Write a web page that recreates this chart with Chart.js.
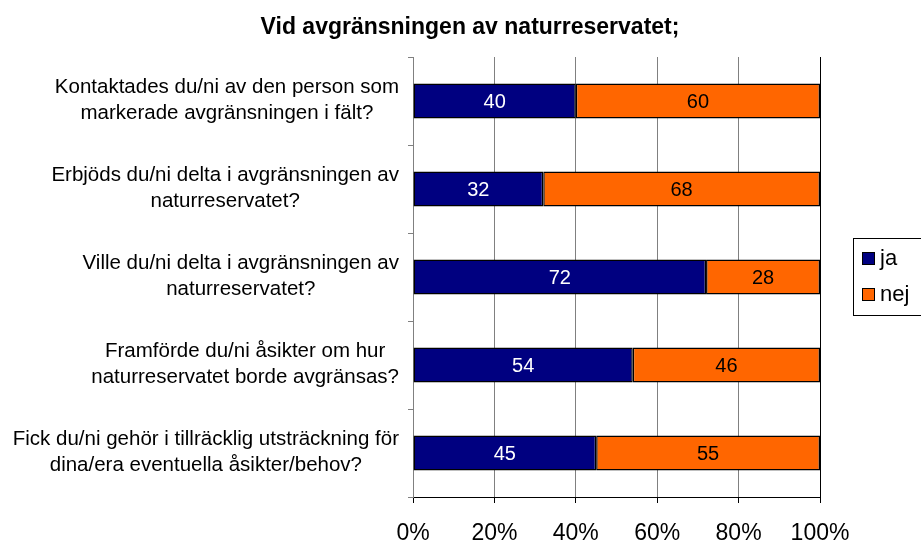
<!DOCTYPE html>
<html lang="sv">
<head>
<meta charset="utf-8">
<title>Vid avgränsningen av naturreservatet;</title>
<script src="https://cdn.jsdelivr.net/npm/chart.js@4/dist/chart.umd.min.js"></script>
<style>
  html, body { margin: 0; padding: 0; background: #fff; }
  #wrap { width: 921px; height: 541px; }
</style>
</head>
<body>
<div id="wrap"><canvas id="c" width="921" height="541"></canvas></div>
<script>
// Diagramrubrik
const chartTitle = 'Vid avgränsningen av naturreservatet;';
// Frågor (kategorier), flerradiga etiketter
const questions = [
  ['Kontaktades du/ni av den person som', 'markerade avgränsningen i fält?'],
  ['Erbjöds du/ni delta i avgränsningen av', 'naturreservatet?'],
  ['Ville du/ni delta i avgränsningen av', 'naturreservatet?'],
  ['Framförde du/ni åsikter om hur', 'naturreservatet borde avgränsas?'],
  ['Fick du/ni gehör i tillräcklig utsträckning för', 'dina/era eventuella åsikter/behov?']
];
// Andel svar i procent
const jaValues  = [40, 32, 72, 54, 45];
const nejValues = [60, 68, 28, 46, 55];
// Skalans steg
const xTicks = [0, 20, 40, 60, 80, 100];

const FONT = '"Liberation Sans", Arial, sans-serif';

// Rubrik ovanför diagrammet
const titleText = {
  id: 'titleText',
  afterDraw(chart) {
    const ctx = chart.ctx;
    ctx.save();
    ctx.font = 'bold 23px ' + FONT;
    ctx.fillStyle = '#000';
    ctx.textAlign = 'center';
    ctx.textBaseline = 'alphabetic';
    ctx.fillText(chartTitle, 470, 34);
    ctx.restore();
  }
};

// Kategorietiketter: raderna centrerade inom ett högerjusterat block
const questionLabels = {
  id: 'questionLabels',
  afterDraw(chart) {
    const ctx = chart.ctx;
    const yScale = chart.scales.y;
    const right = 399, lineGap = 26;
    ctx.save();
    ctx.font = '20.5px ' + FONT;
    ctx.fillStyle = '#000';
    ctx.textAlign = 'center';
    ctx.textBaseline = 'middle';
    questions.forEach((lines, i) => {
      const w = Math.max(...lines.map(l => ctx.measureText(l).width));
      const cx = right - w / 2;
      const cy = yScale.getPixelForTick(i) - 1;
      const y0 = cy - (lines.length - 1) * lineGap / 2;
      lines.forEach((l, k) => ctx.fillText(l, cx, y0 + k * lineGap));
    });
    ctx.restore();
  }
};

// Värdeetiketter mitt i varje stapelsegment
const valueLabels = {
  id: 'valueLabels',
  afterDatasetsDraw(chart) {
    const ctx = chart.ctx;
    ctx.save();
    ctx.font = '20px ' + FONT;
    ctx.textAlign = 'center';
    ctx.textBaseline = 'middle';
    chart.data.datasets.forEach((ds, i) => {
      const meta = chart.getDatasetMeta(i);
      meta.data.forEach((el, j) => {
        ctx.fillStyle = ds.labelColor;
        ctx.fillText(String(ds.data[j]), (el.x + el.base) / 2, el.y + 1);
      });
    });
    ctx.restore();
  }
};

// Förklaring med ram till höger om diagrammet
const boxedLegend = {
  id: 'boxedLegend',
  afterDraw(chart) {
    const ctx = chart.ctx;
    const x0 = 853, y0 = 238, w = 70, h = 77;
    ctx.save();
    ctx.fillStyle = '#fff';
    ctx.fillRect(x0, y0, w, h);
    ctx.strokeStyle = '#000';
    ctx.lineWidth = 1;
    ctx.strokeRect(x0 + 0.5, y0 + 0.5, w, h);
    ctx.font = '22px ' + FONT;
    ctx.textBaseline = 'middle';
    ctx.textAlign = 'left';
    chart.data.datasets.forEach((ds, i) => {
      const cy = y0 + 20 + i * 36;
      ctx.fillStyle = ds.backgroundColor;
      ctx.fillRect(862, cy - 6, 13, 13);
      ctx.strokeStyle = '#000';
      ctx.strokeRect(862.5, cy - 5.5, 12, 12);
      ctx.fillStyle = '#000';
      ctx.fillText(ds.label, 880, cy + 1);
    });
    ctx.restore();
  }
};

new Chart(document.getElementById('c'), {
  type: 'bar',
  data: {
    labels: questions,
    datasets: [
      { label: 'ja',  data: jaValues,  backgroundColor: '#000080', labelColor: '#ffffff',
        borderColor: '#000', borderWidth: 1.5, borderSkipped: false,
        barPercentage: 0.4, categoryPercentage: 1 },
      { label: 'nej', data: nejValues, backgroundColor: '#FF6600', labelColor: '#000000',
        borderColor: '#000', borderWidth: 1.5, borderSkipped: false,
        barPercentage: 0.4, categoryPercentage: 1 }
    ]
  },
  options: {
    indexAxis: 'y',
    responsive: false,
    animation: false,
    layout: { padding: { left: 0, right: 101, top: 57, bottom: 0 } },
    plugins: {
      legend: { display: false },
      tooltip: { enabled: false },
      title: { display: false }
    },
    scales: {
      x: {
        stacked: true,
        min: 0, max: 100,
        afterBuildTicks(scale) { scale.ticks = xTicks.map(v => ({ value: v })); },
        afterFit(scale) { scale.height = 44; },
        ticks: {
          color: '#000',
          font: { family: FONT, size: 23 },
          padding: 17,
          maxRotation: 0,
          callback: v => v + '%'
        },
        grid: {
          color: ctx => (ctx.tick && ctx.tick.value === 100) ? '#000' : '#808080',
          tickColor: '#000',
          tickLength: 6,
          lineWidth: 1
        },
        border: { display: true, color: '#000' }
      },
      y: {
        stacked: true,
        afterFit(scale) { scale.width = 413; scale.paddingTop = 0; scale.paddingBottom = 0; },
        ticks: { display: false },
        grid: {
          drawOnChartArea: false,
          drawTicks: true,
          tickLength: 5,
          color: '#808080',
          offset: true
        },
        border: { display: true, color: '#808080' }
      }
    }
  },
  plugins: [titleText, questionLabels, valueLabels, boxedLegend]
});
</script>
</body>
</html>
